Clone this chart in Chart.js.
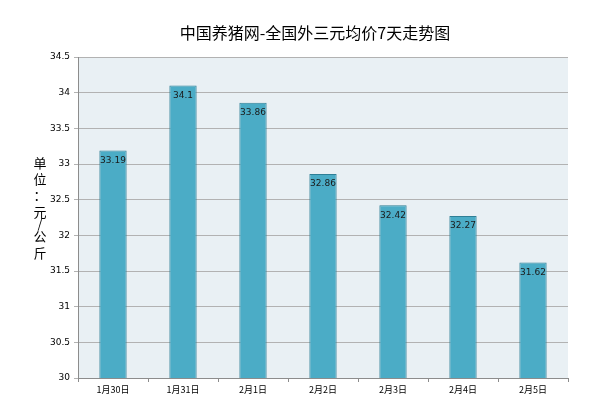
<!DOCTYPE html>
<html>
<head>
<meta charset="utf-8">
<script src="https://cdn.jsdelivr.net/npm/chart.js@4/dist/chart.umd.min.js"></script>
<style>
  html, body { margin: 0; padding: 0; background: #fff; }
  #wrap { width: 600px; height: 403px; }
</style>
</head>
<body>
<div id="wrap"><canvas id="priceChart" width="600" height="403"></canvas></div>
<script>
const chartTitle = '中国养猪网-全国外三元均价7天走势图';
const yLabel = ['单', '位', '：', '元', '/', '公', '斤'];
const days = ['1月30日', '1月31日', '2月1日', '2月2日', '2月3日', '2月4日', '2月5日'];
const prices = [33.19, 34.1, 33.86, 32.86, 32.42, 32.27, 31.62];

const decor = {
    id: 'decor',
    beforeDraw(chart) {
        const { ctx, chartArea: a } = chart;
        ctx.save();
        ctx.fillStyle = '#e9f0f4';
        ctx.fillRect(a.left, a.top, a.right - a.left, a.bottom - a.top);
        ctx.restore();
    },
    afterDraw(chart) {
        const { ctx } = chart;
        ctx.save();
        ctx.fillStyle = '#000';
        ctx.font = '16px "Noto Sans CJK SC"';
        ctx.textAlign = 'center';
        ctx.textBaseline = 'middle';
        ctx.fillText(chartTitle, 315, 33);

        // vertical axis label, one character per line
        ctx.font = '13px "Noto Sans CJK SC"';
        const steps = [0, 16, 16, 17, 11, 13, 17];
        let y = 163;
        yLabel.forEach((c, i) => {
            y += steps[i];
            ctx.fillText(c, 40, y);
        });

        // value labels inside the bar tops
        const meta = chart.getDatasetMeta(0);
        ctx.font = '9px "DejaVu Sans"';
        ctx.fillStyle = '#1a1a1a';
        meta.data.forEach((bar, i) => {
            ctx.fillText(String(prices[i]), bar.x, bar.y + 10);
        });
        ctx.restore();
    }
};

new Chart(document.getElementById('priceChart'), {
    type: 'bar',
    data: {
        labels: days,
        datasets: [{
            data: prices,
            backgroundColor: '#4bacc6',
            borderColor: '#2f7f96',
            borderWidth: 1,
            borderSkipped: false,
            barPercentage: 0.39,
            categoryPercentage: 1
        }]
    },
    options: {
        responsive: false,
        animation: false,
        layout: { padding: { left: 48, right: 32, top: 57, bottom: 0 } },
        plugins: {
            legend: { display: false },
            tooltip: { enabled: false }
        },
        scales: {
            x: {
                afterFit: s => { s.height = 25; },
                grid: {
                    offset: true,
                    drawOnChartArea: false,
                    drawTicks: true,
                    tickLength: 4,
                    color: '#8c8c8c'
                },
                border: { color: '#8c8c8c' },
                ticks: {
                    color: '#000',
                    font: { size: 9, family: '"Noto Sans CJK SC"' },
                    padding: 2
                }
            },
            y: {
                min: 30,
                max: 34.5,
                afterFit: s => { s.width = 30; },
                grid: {
                    color: '#b2b2b2',
                    tickLength: 4,
                    lineWidth: 1
                },
                border: { color: '#8c8c8c' },
                ticks: {
                    stepSize: 0.5,
                    color: '#000',
                    font: { size: 9, family: '"DejaVu Sans"' },
                    padding: 4,
                    callback: v => String(Math.round(v * 10) / 10)
                }
            }
        }
    },
    plugins: [decor]
});
</script>
</body>
</html>
